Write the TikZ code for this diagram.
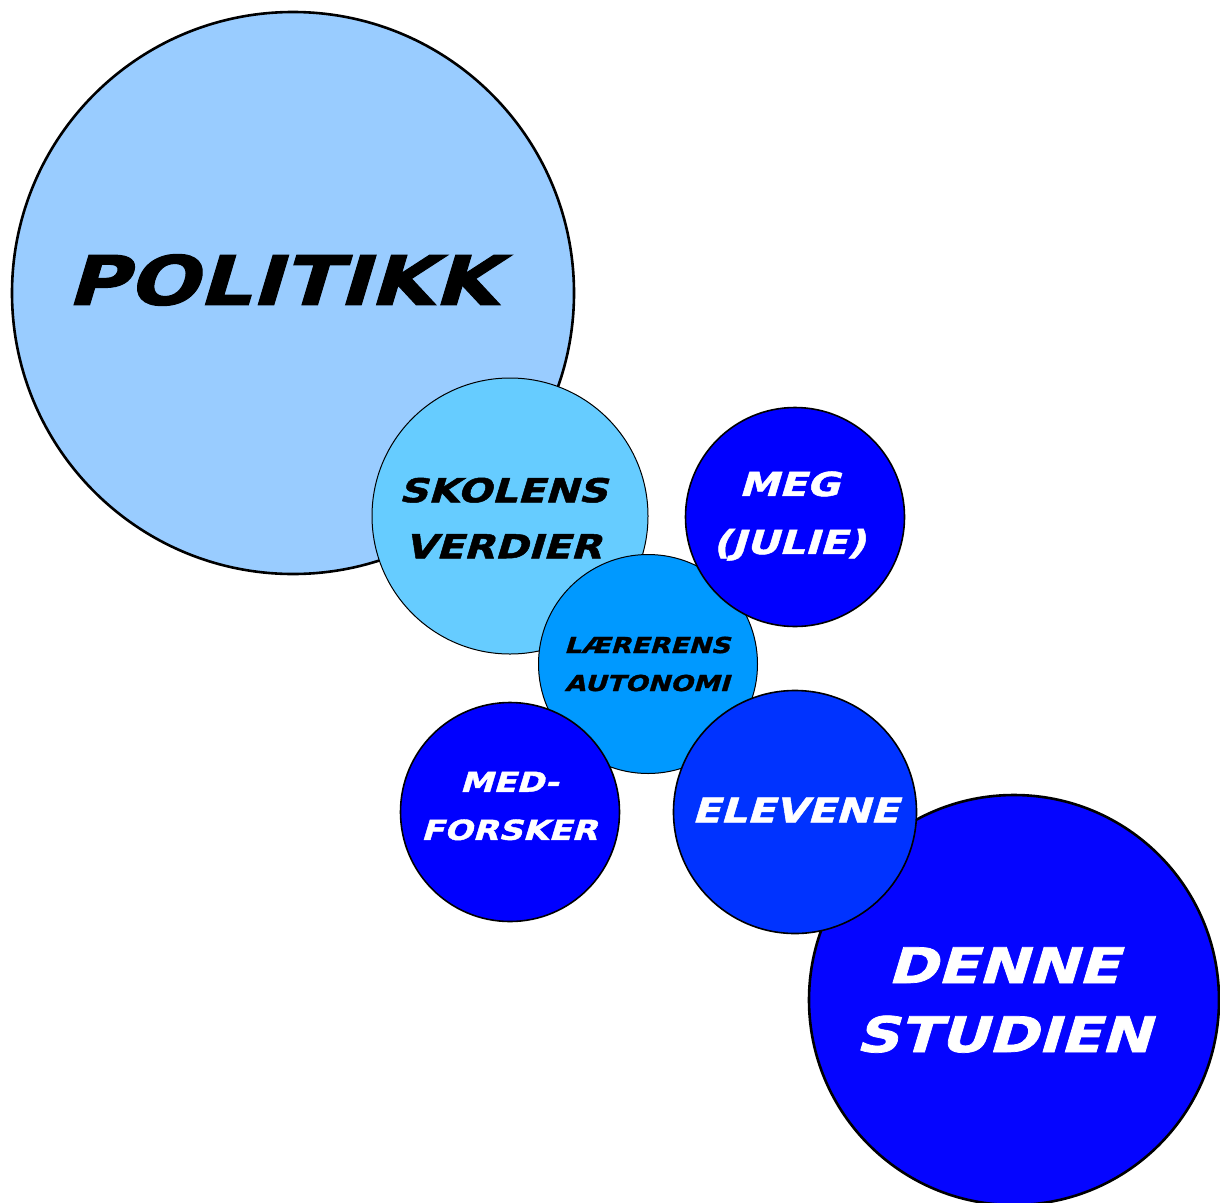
\documentclass[tikz,border=0pt]{standalone}
\usepackage{fontspec}
\usepackage{tikz}
\newfontfamily\widefont[FakeStretch=1.22,FakeSlant=0.3,FakeBold=1.5]{DejaVu Sans}

\definecolor{politikkcol}{HTML}{99CCFF}
\definecolor{skolecol}{HTML}{66CCFF}
\definecolor{laerercol}{HTML}{0099FF}
\definecolor{megcol}{HTML}{0000FF}
\definecolor{elevcol}{HTML}{0033FF}
\definecolor{studiecol}{HTML}{0505FF}

\tikzset{
  bubble/.style={circle,draw=black,line width=1.6pt,inner sep=0pt},
  bigbubble/.style={bubble,line width=2.6pt},
  bubbletext/.style 2 args={align=center,inner sep=0pt,
    font=\widefont\bfseries\fontsize{#1}{#2}\selectfont},
}

\begin{document}
\begin{tikzpicture}[x=1pt,y=-1pt]
\useasboundingbox (0,0) rectangle (1220,1202);
% the circles, back to front
\node[bigbubble,fill=politikkcol,minimum size=562pt] (politikk) at (293,293) {};
\node[bubble,line width=1pt,fill=skolecol,minimum size=276pt] (skole) at (510,516) {};
\node[bubble,line width=1pt,fill=laerercol,minimum size=219pt] (laerer) at (648,664) {};
\node[bubble,fill=megcol,minimum size=219pt] (meg) at (795,517) {};
\node[bubble,fill=megcol,minimum size=219pt] (medforsker) at (510,812) {};
\node[bigbubble,fill=studiecol,minimum size=410pt] (studie) at (1014,1000) {};
\node[bubble,fill=elevcol,minimum size=243pt] (elevene) at (795,812) {};
% the labels
\node[bubbletext={68}{80}] (politikk-t) at (282,280) {POLITIKK};
\node[bubbletext={33}{56}] (skole-t) at (503,518) {SKOLENS\\ VERDIER};
\node[bubbletext={22}{38}] (laerer-t) at (647,664) {LÆRERENS\\ AUTONOMI};
\node[bubbletext={33}{58},text=white] (meg-t) at (789,516) {MEG\\ (JULIE)};
\node[bubbletext={27.5}{48},text=white] (medforsker-t) at (509,806) {MED-\\ FORSKER};
\node[bubbletext={34}{40},text=white] (elevene-t) at (795,810) {ELEVENE};
\node[bubbletext={49}{69},text=white] (studie-t) at (1003,1000) {DENNE\\ STUDIEN};
\end{tikzpicture}
\end{document}
